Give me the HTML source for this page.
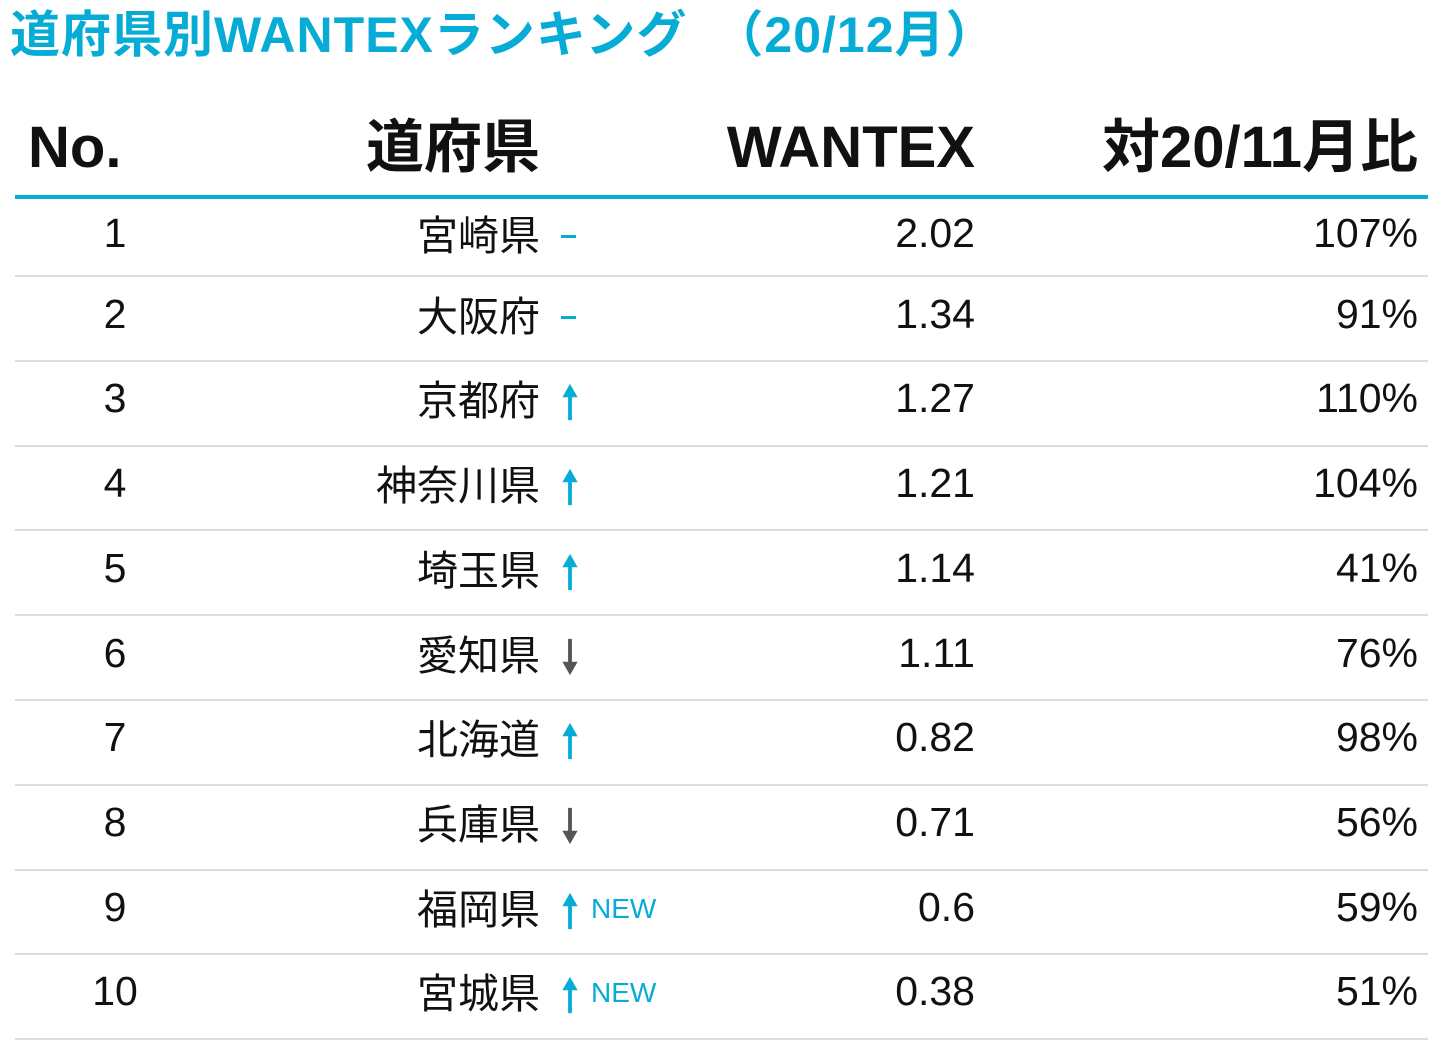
<!DOCTYPE html>
<html><head><meta charset="utf-8"><style>
body{margin:0;width:1440px;height:1052px;background:#fff;position:relative;overflow:hidden;font-family:"Liberation Sans","Noto Sans CJK JP",sans-serif;}
.t{position:absolute;white-space:nowrap;line-height:1;}
.title{left:10px;top:10px;font-size:50px;color:#06acd5;font-weight:bold;letter-spacing:1px;}
.h{top:119px;font-size:58px;color:#111;font-weight:bold;}
.r{font-size:41px;color:#111;}
.sep{position:absolute;left:15px;width:1413px;height:2px;background:#ddd;}
.new{font-size:28px;color:#06acd5;}
</style></head><body>
<div class="t title">道府県別WANTEXランキング　（20/12月）</div>
<div class="t h" style="left:28px">No.</div>
<div class="t h" style="right:900px">道府県</div>
<div class="t h" style="right:465px">WANTEX</div>
<div class="t h" style="right:22px">対20/11月比</div>
<div style="position:absolute;left:15px;top:195px;width:1413px;height:4px;background:#06acd5"></div>
<div id="rows"></div>
<script>
(function(){
var d=[["1","宮崎県","-","2.02","107%"],["2","大阪府","-","1.34","91%"],["3","京都府","u","1.27","110%"],["4","神奈川県","u","1.21","104%"],["5","埼玉県","u","1.14","41%"],["6","愛知県","d","1.11","76%"],["7","北海道","u","0.82","98%"],["8","兵庫県","d","0.71","56%"],["9","福岡県","un","0.6","59%"],["10","宮城県","un","0.38","51%"]];
var h="";
for(var i=0;i<d.length;i++){var c=(i==0?233:229+i*84.7);var tp=c-20;var s=275+i*84.8;
h+='<div class="t r" style="left:60px;width:110px;text-align:center;top:'+tp+'px">'+d[i][0]+'</div>';
h+='<div class="t r" style="right:900px;top:'+(tp+3)+'px">'+d[i][1]+'</div>';
h+='<div class="t r" style="right:465px;top:'+tp+'px">'+d[i][3]+'</div>';
h+='<div class="t r" style="right:22px;top:'+tp+'px">'+d[i][4]+'</div>';
var m=d[i][2];
if(m=="-")h+='<div style="position:absolute;left:561px;top:'+(c+2)+'px;width:15px;height:3px;background:#06acd5"></div>';
else{var up=m[0]=="u";var col=up?"#06acd5":"#555";
h+='<svg style="position:absolute;left:560px;top:'+(c-16)+'px" width="20" height="40" viewBox="0 0 20 42">'+(up?'<path d="M10 2 L18 16 L12 16 L12 40 L8 40 L8 16 L2 16Z" fill="'+col+'"/>':'<path d="M10 40 L18 26 L12 26 L12 2 L8 2 L8 26 L2 26Z" fill="'+col+'"/>')+'</svg>';
if(m=="un")h+='<div class="t new" style="left:591px;top:'+(c-12)+'px">NEW</div>';}
h+='<div class="sep" style="top:'+s+'px"></div>';}
document.getElementById("rows").innerHTML=h;
})();
</script>
</body></html>
